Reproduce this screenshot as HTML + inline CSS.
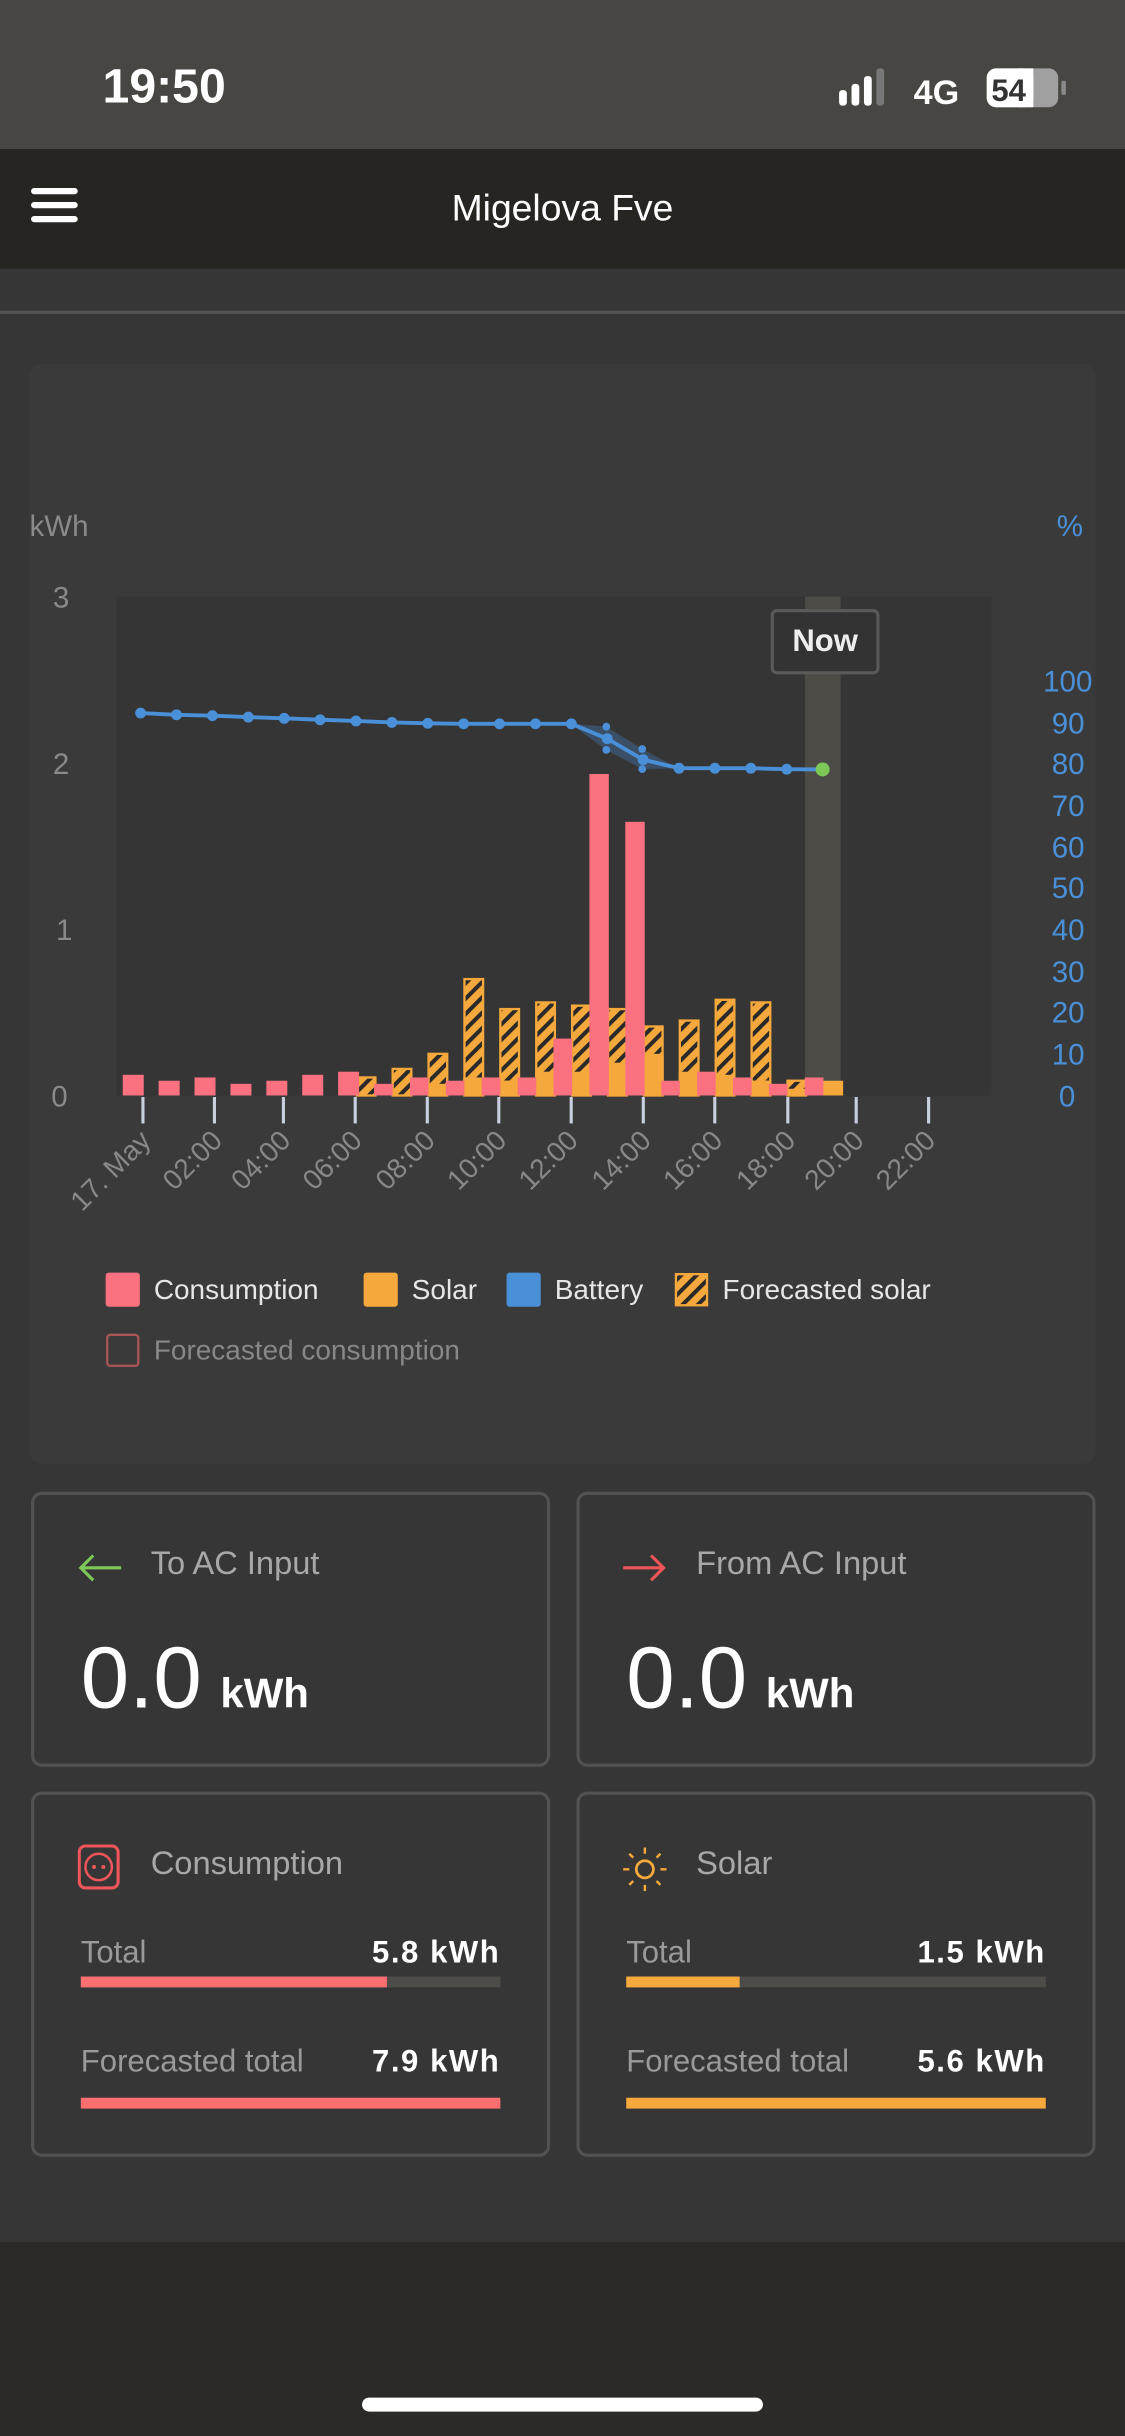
<!DOCTYPE html>
<html><head><meta charset="utf-8"><style>
html,body{margin:0;padding:0;background:#363636;}
body{width:1125px;height:2436px;overflow:hidden;font-family:"Liberation Sans",sans-serif;}
#w{position:absolute;left:0;top:0;width:724px;height:1568px;transform:scale(1.55387);transform-origin:0 0;background:#363636;}
.a{position:absolute;}
.card{position:absolute;border:2px solid #535250;border-radius:7px;box-sizing:border-box;background:#363636;}
.lbl{color:#a8a8a8;font-size:21px;}
.big{color:#fff;font-size:56px;}
.unit{color:#fff;font-size:27px;font-weight:bold;}
.row{position:absolute;left:30px;right:30px;font-size:20px;}
.row .l{color:#9a9a9a;position:absolute;left:0;}
.row .v{color:#fff;font-weight:bold;position:absolute;right:0;letter-spacing:1px;}
.bar{position:absolute;left:30px;right:30px;height:7px;background:#4d4c48;}
</style></head><body><div id="w">
<div class="a" style="left:0;top:0;width:724px;height:96px;background:#474642"></div>
<div class="a" style="left:66px;top:38px;color:#fff;font-size:31px;font-weight:bold">19:50</div>
<svg class="a" style="left:535px;top:40px" width="160" height="36">
<rect x="5" y="18" width="5" height="10" rx="2" fill="#fff"/><rect x="13" y="14" width="5" height="14" rx="2" fill="#fff"/><rect x="21" y="9" width="5" height="19" rx="2" fill="#fff"/><rect x="29" y="4" width="5" height="24" rx="2" fill="#777"/>
<text x="53" y="27" fill="#fff" font-size="22" font-weight="bold" font-family="Liberation Sans">4G</text>
<rect x="100" y="4" width="46" height="25" rx="6" fill="#a0a0a0"/><rect x="100" y="4" width="30" height="25" rx="6" fill="#fff"/><rect x="120" y="4" width="10" height="25" fill="#fff"/>
<text x="103" y="25" fill="#333" font-size="20" font-weight="bold" font-family="Liberation Sans">54</text>
<rect x="148" y="12" width="3" height="9" rx="1" fill="#888"/>
</svg>
<div class="a" style="left:0;top:96px;width:724px;height:77px;background:#262522"></div>
<div class="a" style="left:20px;top:121px;width:30px;height:4px;background:#fff;border-radius:2px"></div>
<div class="a" style="left:20px;top:130px;width:30px;height:4px;background:#fff;border-radius:2px"></div>
<div class="a" style="left:20px;top:139px;width:30px;height:4px;background:#fff;border-radius:2px"></div>
<div class="a" style="left:0;top:121px;width:724px;text-align:center;color:#fff;font-size:24px">Migelova Fve</div>
<div class="a" style="left:0;top:200px;width:724px;height:2px;background:#555"></div>
<div class="a" style="left:19px;top:234px;width:686px;height:708px;background:#3a3a3a;border-radius:8px"></div>
<svg class="a" style="left:0;top:0" width="724" height="960" font-family="Liberation Sans">
<defs><pattern id="h" patternUnits="userSpaceOnUse" width="7" height="7" patternTransform="rotate(45)"><rect width="7" height="7" fill="#f5a83b"/><rect width="2.6" height="7" fill="#2a2a2a"/></pattern></defs>
<rect x="75" y="384" width="563" height="321" fill="#353535"/>
<rect x="518" y="384" width="23" height="321" fill="#4d4b46"/>
<g fill="#8a8a8a" font-size="19"><text x="19" y="345">kWh</text><text x="34" y="391">3</text><text x="34" y="498">2</text><text x="36" y="605">1</text><text x="33" y="712">0</text></g>
<g fill="#4a90d9" font-size="19" text-anchor="end"><text x="697" y="345">%</text><text x="703" y="445">100</text><text x="698" y="472">90</text><text x="698" y="498">80</text><text x="698" y="525">70</text><text x="698" y="552">60</text><text x="698" y="578">50</text><text x="698" y="605">40</text><text x="698" y="632">30</text><text x="698" y="658">20</text><text x="698" y="685">10</text><text x="692" y="712">0</text></g>
<g stroke="#f5a83b" stroke-width="1.5" fill="url(#h)">
<rect x="229.6" y="693.4" width="12" height="11.6"/><rect x="252.7" y="687.9" width="12" height="17.1"/><rect x="275.8" y="678.2" width="12" height="26.8"/><rect x="298.9" y="630.1" width="12" height="74.9"/><rect x="322" y="649.4" width="12" height="55.6"/><rect x="345.1" y="645.1" width="12" height="59.9"/><rect x="368.2" y="647.2" width="12" height="57.8"/><rect x="391.3" y="649.4" width="12" height="55.6"/><rect x="414.4" y="660.6" width="12" height="44.4"/><rect x="437.5" y="656.8" width="12" height="48.2"/><rect x="460.6" y="643.4" width="12" height="61.6"/><rect x="483.7" y="645.1" width="12" height="59.9"/><rect x="506.8" y="695.5" width="12" height="9.5"/></g>
<g fill="#f5a83b">
<rect x="275" y="697.5" width="13.5" height="7.5"/><rect x="298.1" y="693.4" width="13.5" height="11.6"/><rect x="321.2" y="695.4" width="13.5" height="9.6"/><rect x="344.3" y="689.7" width="13.5" height="15.3"/><rect x="367.4" y="689.7" width="13.5" height="15.3"/><rect x="390.5" y="683.9" width="13.5" height="21.1"/><rect x="413.6" y="678.2" width="13.5" height="26.8"/><rect x="436.7" y="689.7" width="13.5" height="15.3"/><rect x="459.8" y="691.7" width="13.5" height="13.3"/><rect x="482.9" y="695.4" width="13.5" height="9.6"/><rect x="506" y="700.7" width="13.5" height="4.3"/><rect x="529.1" y="695.5" width="13.5" height="9.5"/></g>
<g fill="#fb7180">
<rect x="79" y="691.7" width="13.5" height="13.3"/><rect x="102.1" y="695.5" width="13.5" height="9.5"/><rect x="125.2" y="693.4" width="13.5" height="11.6"/><rect x="148.3" y="697.5" width="13.5" height="7.5"/><rect x="171.4" y="695.5" width="13.5" height="9.5"/><rect x="194.5" y="691.7" width="13.5" height="13.3"/><rect x="217.6" y="689.7" width="13.5" height="15.3"/><rect x="240.7" y="697.5" width="12" height="7.5"/><rect x="263.8" y="693.4" width="12" height="11.6"/><rect x="286.9" y="695.5" width="12" height="9.5"/><rect x="310" y="693.4" width="12" height="11.6"/><rect x="333.1" y="693.4" width="12" height="11.6"/><rect x="356.2" y="668.4" width="12" height="36.6"/><rect x="379.3" y="498.1" width="12.5" height="206.9"/><rect x="402.4" y="528.9" width="12.5" height="176.1"/><rect x="425.5" y="695.5" width="12" height="9.5"/><rect x="448.6" y="689.7" width="12" height="15.3"/><rect x="471.7" y="693.4" width="12" height="11.6"/><rect x="494.8" y="697.5" width="12" height="7.5"/><rect x="517.9" y="693.4" width="12" height="11.6"/></g>
<polygon points="367.1,465.8 390.2,467.6 413.3,482 436.4,494.4 413.3,495 390.2,482.6" fill="#4a90d9" opacity="0.3"/>
<polyline points="90.5,458.9 113.6,460 136.7,460.6 159.8,461.5 182.9,462.3 206,463.2 229.1,464 252.2,464.9 275.3,465.5 298.4,465.8 321.5,465.8 344.6,465.8 367.7,465.8 390.8,475.4 413.9,488.9 437,494.4 460.1,494.4 483.2,494.4 506.3,495 529.4,495.2" fill="none" stroke="#4a90d9" stroke-width="2.5"/>
<g fill="#4a90d9"><circle cx="90.5" cy="458.9" r="3.5"/><circle cx="113.6" cy="460" r="3.5"/><circle cx="136.7" cy="460.6" r="3.5"/><circle cx="159.8" cy="461.5" r="3.5"/><circle cx="182.9" cy="462.3" r="3.5"/><circle cx="206" cy="463.2" r="3.5"/><circle cx="229.1" cy="464" r="3.5"/><circle cx="252.2" cy="464.9" r="3.5"/><circle cx="275.3" cy="465.5" r="3.5"/><circle cx="298.4" cy="465.8" r="3.5"/><circle cx="321.5" cy="465.8" r="3.5"/><circle cx="344.6" cy="465.8" r="3.5"/><circle cx="367.7" cy="465.8" r="3.5"/><circle cx="390.8" cy="475.4" r="3.5"/><circle cx="413.9" cy="488.9" r="3.5"/><circle cx="437" cy="494.4" r="3.5"/><circle cx="460.1" cy="494.4" r="3.5"/><circle cx="483.2" cy="494.4" r="3.5"/><circle cx="506.3" cy="495" r="3.5"/>
<circle cx="390.2" cy="467.6" r="2.5"/><circle cx="390.2" cy="482.6" r="2.5"/><circle cx="413.3" cy="482" r="2.5"/><circle cx="413.3" cy="495" r="2.5"/></g>
<circle cx="529.4" cy="495.2" r="4.5" fill="#7cc95a"/>
<rect x="497" y="393" width="68" height="40" rx="3" fill="#333" stroke="#5a5a5a" stroke-width="2"/>
<text x="531" y="419" fill="#eee" font-size="20" font-weight="bold" text-anchor="middle">Now</text>
<g stroke="#c8d0e0" stroke-width="2"><line x1="92" y1="706" x2="92" y2="723"/><line x1="138" y1="706" x2="138" y2="723"/><line x1="182.4" y1="706" x2="182.4" y2="723"/><line x1="228.6" y1="706" x2="228.6" y2="723"/><line x1="275" y1="706" x2="275" y2="723"/><line x1="321" y1="706" x2="321" y2="723"/><line x1="367.6" y1="706" x2="367.6" y2="723"/><line x1="414" y1="706" x2="414" y2="723"/><line x1="460" y1="706" x2="460" y2="723"/><line x1="507" y1="706" x2="507" y2="723"/><line x1="551" y1="706" x2="551" y2="723"/><line x1="597.6" y1="706" x2="597.6" y2="723"/></g>
<g fill="#888" font-size="18" text-anchor="end">
<text transform="translate(98,735) rotate(-45)">17. May</text><text transform="translate(144,735) rotate(-45)">02:00</text><text transform="translate(188,735) rotate(-45)">04:00</text><text transform="translate(234,735) rotate(-45)">06:00</text><text transform="translate(281,735) rotate(-45)">08:00</text><text transform="translate(327,735) rotate(-45)">10:00</text><text transform="translate(373,735) rotate(-45)">12:00</text><text transform="translate(420,735) rotate(-45)">14:00</text><text transform="translate(466,735) rotate(-45)">16:00</text><text transform="translate(513,735) rotate(-45)">18:00</text><text transform="translate(557,735) rotate(-45)">20:00</text><text transform="translate(603,735) rotate(-45)">22:00</text></g>
<rect x="68" y="819" width="22" height="22" rx="2" fill="#fb7180"/>
<rect x="234" y="819" width="22" height="22" rx="2" fill="#f5a83b"/>
<rect x="326" y="819" width="22" height="22" rx="2" fill="#4a90d9"/>
<rect x="435" y="820" width="20" height="20" fill="url(#h)" stroke="#f5a83b" stroke-width="1.5"/>
<rect x="69" y="859" width="20" height="20" rx="2" fill="none" stroke="#a85555" stroke-width="1.5"/>
<g font-size="18"><text x="99" y="836" fill="#e6e6e6">Consumption</text><text x="265" y="836" fill="#e6e6e6">Solar</text><text x="357" y="836" fill="#e6e6e6">Battery</text><text x="465" y="836" fill="#e6e6e6">Forecasted solar</text><text x="99" y="875" fill="#888">Forecasted consumption</text></g>
</svg>

<div class="card" style="left:20px;top:960px;width:334px;height:177px">
<svg class="a" style="left:28px;top:38px" width="32" height="18"><path d="M2 9 H28 M10 1 L2 9 L10 17" stroke="#7cc95a" stroke-width="2" fill="none"/></svg>
<div class="a lbl" style="left:75px;top:33px">To AC Input</div>
<div class="a" style="left:30px;top:85px"><span class="big">0.0</span> <span class="unit">&nbsp;kWh</span></div>
</div>
<div class="card" style="left:371px;top:960px;width:334px;height:177px">
<svg class="a" style="left:28px;top:38px" width="32" height="18"><path d="M0 9 H26 M18 1 L26 9 L18 17" stroke="#f0555a" stroke-width="2" fill="none"/></svg>
<div class="a lbl" style="left:75px;top:33px">From AC Input</div>
<div class="a" style="left:30px;top:85px"><span class="big">0.0</span> <span class="unit">&nbsp;kWh</span></div>
</div>
<div class="card" style="left:20px;top:1153px;width:334px;height:235px">
<svg class="a" style="left:28px;top:32px" width="28" height="30"><rect x="1" y="1" width="25" height="27" rx="4" stroke="#f0555a" stroke-width="2" fill="none"/><circle cx="13.5" cy="14.5" r="8.5" stroke="#f0555a" stroke-width="1.6" fill="none"/><circle cx="10.5" cy="14.5" r="1.3" fill="#f0555a"/><circle cx="16.5" cy="14.5" r="1.3" fill="#f0555a"/></svg>
<div class="a lbl" style="left:75px;top:33px">Consumption</div>
<div class="row" style="top:91px"><span class="l">Total</span><span class="v">5.8 kWh</span></div>
<div class="bar" style="top:117px"><div style="width:73%;height:100%;background:#fb6f70"></div></div>
<div class="row" style="top:161px"><span class="l">Forecasted total</span><span class="v">7.9 kWh</span></div>
<div class="bar" style="top:195px;background:#fb6f70"></div>
</div>
<div class="card" style="left:371px;top:1153px;width:334px;height:235px">
<svg class="a" style="left:28px;top:33px" width="28" height="30"><circle cx="14" cy="15" r="5.5" stroke="#f5a83b" stroke-width="1.8" fill="none"/><g stroke="#f5a83b" stroke-width="1.6"><line x1="14" y1="1" x2="14" y2="5"/><line x1="14" y1="25" x2="14" y2="29"/><line x1="0" y1="15" x2="4" y2="15"/><line x1="24" y1="15" x2="28" y2="15"/><line x1="4" y1="5" x2="6.5" y2="7.5"/><line x1="21.5" y1="22.5" x2="24" y2="25"/><line x1="24" y1="5" x2="21.5" y2="7.5"/><line x1="6.5" y1="22.5" x2="4" y2="25"/></g></svg>
<div class="a lbl" style="left:75px;top:33px">Solar</div>
<div class="row" style="top:91px"><span class="l">Total</span><span class="v">1.5 kWh</span></div>
<div class="bar" style="top:117px"><div style="width:27%;height:100%;background:#f5a83b"></div></div>
<div class="row" style="top:161px"><span class="l">Forecasted total</span><span class="v">5.6 kWh</span></div>
<div class="bar" style="top:195px;background:#f5a83b"></div>
</div>
<div class="a" style="left:0;top:1443px;width:724px;height:125px;background:#2b2a28"></div>
<div class="a" style="left:233px;top:1543px;width:258px;height:9px;background:#fff;border-radius:5px"></div>
</div></body></html>
